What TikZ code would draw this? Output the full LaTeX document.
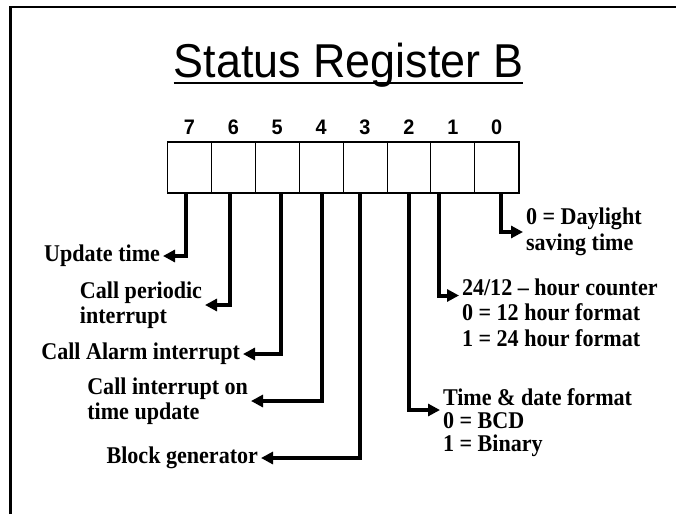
\documentclass[tikz,border=0pt]{standalone}
\usepackage{fontspec}
\setmainfont{Liberation Serif}[FakeStretch=0.92]
\newfontfamily\headfont{Liberation Sans}[FakeStretch=0.945]
\usetikzlibrary{arrows.meta,positioning,fit}

\begin{document}
\begin{tikzpicture}[x=1pt,y=-1pt,
  cell/.style={draw,line width=0.9pt,minimum width=43.9pt,minimum height=51pt,
               inner sep=0pt,outer sep=0pt},
  bitno/.style={font=\headfont\bfseries\fontsize{21}{21}\selectfont,inner sep=0pt},
  lbl/.style={font=\bfseries\fontsize{24}{25.5}\selectfont,align=left,
              inner sep=0pt,outer sep=3pt},
  pin/.style={-{Triangle[length=12pt,width=12pt]},line width=4pt}
]
\useasboundingbox (0,0) rectangle (676,514);
% slide frame (open at right and bottom)
\draw[line width=2.6pt] (10.5,514) -- (10.5,7) -- (676,7);

% title
\node[font=\headfont\fontsize{47.5}{47.5}\selectfont,inner sep=0pt,anchor=base] (title)
  at (348.5,77) {Status Register B};
\draw[line width=2pt] ([yshift=-6pt]title.base west) -- ([yshift=-6pt]title.base east);

% the eight bits
\node[cell] (b7) at (189.4,167.5) {};
\node[cell,right=0pt of b7] (b6) {};
\node[cell,right=0pt of b6] (b5) {};
\node[cell,right=0pt of b5] (b4) {};
\node[cell,right=0pt of b4] (b3) {};
\node[cell,right=0pt of b3] (b2) {};
\node[cell,right=0pt of b2] (b1) {};
\node[cell,right=0pt of b1] (b0) {};
\node[fit=(b7)(b0),draw,line width=1.8pt,inner sep=0pt] (reg) {};

\node[bitno,above=7pt of b7] (n7) {7};
\node[bitno,above=7pt of b6] (n6) {6};
\node[bitno,above=7pt of b5] (n5) {5};
\node[bitno,above=7pt of b4] (n4) {4};
\node[bitno,above=7pt of b3] (n3) {3};
\node[bitno,above=7pt of b2] (n2) {2};
\node[bitno,above=7pt of b1] (n1) {1};
\node[bitno,above=7pt of b0] (n0) {0};

% meanings, left side
\node[lbl,anchor=east] (l7) at (163,256) {Update time};
\node[lbl,anchor=east] (l6) at (205,305) {Call periodic\\interrupt};
\node[lbl,anchor=east] (l5) at (243,354) {Call Alarm interrupt};
\node[lbl,anchor=east] (l4) at (251,401) {Call interrupt on\\time update};
\node[lbl,anchor=east] (l3) at (261,458) {Block generator};

% meanings, right side
\node[lbl,anchor=west] (l0) at (523,232) {0 = Daylight\\saving time};
\node[lbl,anchor=west] (l1) at (459,312.5) {24/12 -- hour counter\\0 = 12 hour format\\1 = 24 hour format};
\node[lbl,anchor=west,font=\bfseries\fontsize{24}{23}\selectfont] (l2) at (440,422.5)
  {Time \& date format\\0 = BCD\\1 = Binary};

\draw[pin] ([xshift=-3.4pt]b7.south) |- (l7.east);
\draw[pin] ([xshift=-3.3pt]b6.south) |- (l6.east);
\draw[pin] ([xshift=3.8pt]b5.south) |- (l5.east);
\draw[pin] ([xshift=0.9pt]b4.south) |- (l4.east);
\draw[pin] ([xshift=-5pt]b3.south) |- (l3.east);
\draw[pin] (b2.south) |- ([yshift=12.5pt]l2.west);
\draw[pin] ([xshift=-13.8pt]b1.south) |- ([yshift=17pt]l1.west);
\draw[pin] ([xshift=4.3pt]b0.south) |- (l0.west);
\end{tikzpicture}
\end{document}
